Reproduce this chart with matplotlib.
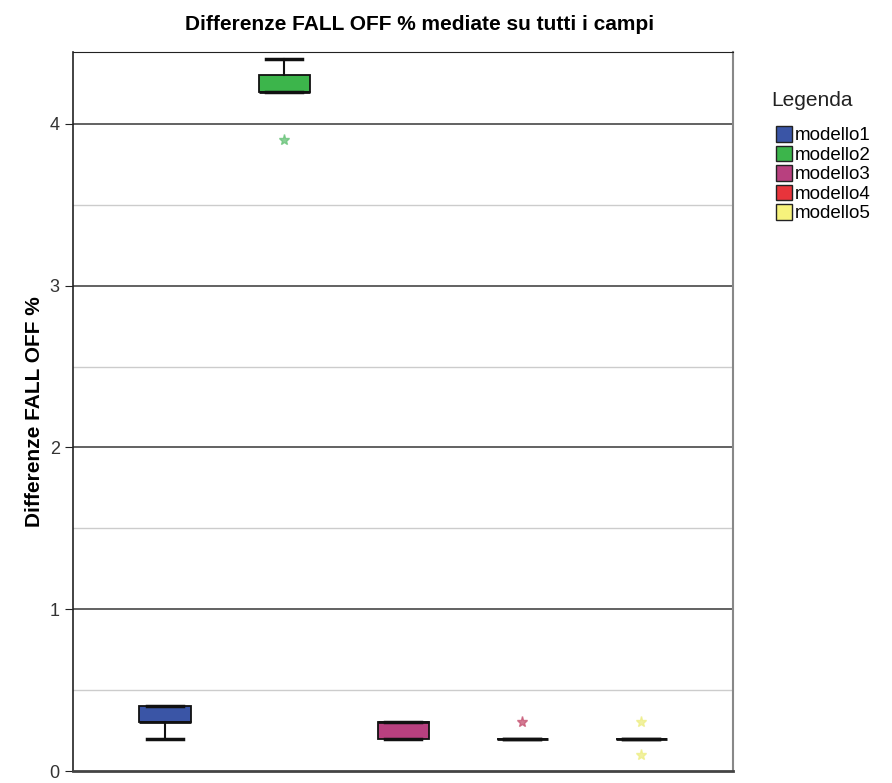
import matplotlib
matplotlib.use("Agg")
import matplotlib.pyplot as plt
from matplotlib.patches import Patch

plt.rcParams['font.family'] = ['Liberation Sans', 'DejaVu Sans']

models = ["modello1", "modello2", "modello3", "modello4", "modello5"]
whislo = [0.2, 4.2, 0.2, 0.2, 0.2]
q1 = [0.3, 4.2, 0.2, 0.2, 0.2]
med = [0.3, 4.2, 0.3, 0.2, 0.2]
q3 = [0.4, 4.3, 0.3, 0.2, 0.2]
whishi = [0.4, 4.4, 0.3, 0.2, 0.2]
outliers = [[], [3.9], [], [0.3], [0.3, 0.1]]
colors = ["#3a55a6", "#3cb54b", "#b8407f", "#e8343b", "#f6f27c"]
star_colors = ["#3a55a6", "#6cc47c", "#c85a78", "#c85a78", "#eeee88"]

fig = plt.figure(figsize=(8.92, 7.83), dpi=100)
ax = fig.add_axes([73/892, 12/783, 660/892, 719/783])

stats = []
for i, m in enumerate(models):
    stats.append(dict(label=m, whislo=whislo[i], q1=q1[i], med=med[i],
                      q3=q3[i], whishi=whishi[i], fliers=[]))

positions = list(range(1, len(models) + 1))
bp = ax.bxp(stats, positions=positions, widths=0.43, patch_artist=True,
            showfliers=False,
            boxprops=dict(edgecolor="#111111", linewidth=1.3),
            medianprops=dict(color="#111111", linewidth=2),
            whiskerprops=dict(color="#111111", linewidth=1.5),
            capprops=dict(color="#111111", linewidth=2.5),
            capwidths=0.3, zorder=3)
for patch, c in zip(bp['boxes'], colors):
    patch.set_facecolor(c)

for i, outs in enumerate(outliers):
    for v in outs:
        ax.plot(positions[i], v, marker='*', markerfacecolor=star_colors[i],
                markeredgecolor=star_colors[i], alpha=0.8,
                markersize=8, linestyle='none', zorder=4)

ax.set_xlim(0.227, 5.77)
ax.set_ylim(0, 4.445)
ax.set_yticks([0, 1, 2, 3, 4])
ax.set_yticks([0.5, 1.5, 2.5, 3.5], minor=True)
ax.tick_params(axis='y', which='minor', length=0)
ax.tick_params(axis='y', which='major', length=6, labelsize=13,
               labelcolor="#333333", color="#222222")
ax.set_xticks([])
for y in [1, 2, 3, 4]:
    ax.axhline(y, color="#555555", linewidth=1.3, zorder=1)
for y in [0.5, 1.5, 2.5, 3.5]:
    ax.axhline(y, color="#cccccc", linewidth=1, zorder=1)

ax.spines['left'].set_color("#222222")
ax.spines['top'].set_color("#222222")
ax.spines['right'].set_color("#888888")
ax.spines['bottom'].set_color("#444444")
ax.spines['bottom'].set_linewidth(2)
ax.spines['right'].set_linewidth(1.5)
ax.spines['left'].set_linewidth(1.2)

ax.set_ylabel("Differenze FALL OFF %", fontsize=15, fontweight='bold')
fig.text(420/892, 1 - 25/783, "Differenze FALL OFF % mediate su tutti i campi",
         ha='center', va='center', fontsize=15, fontweight='bold')

fig.text(812/892, 1 - 101/783, "Legenda", ha='center', va='center',
         fontsize=15, color="#222222")
handles = [Patch(facecolor=c, edgecolor="#222222", label=m)
           for c, m in zip(colors, models)]
leg = fig.legend(handles=handles, loc='upper left',
                 bbox_to_anchor=(776/892, 1 - 126/783), frameon=False,
                 fontsize=13.5, handlelength=0.85,
                 handleheight=0.9, handletextpad=0.15, labelspacing=0.07,
                 borderaxespad=0, borderpad=0)

fig.savefig("out.png", dpi=100)
